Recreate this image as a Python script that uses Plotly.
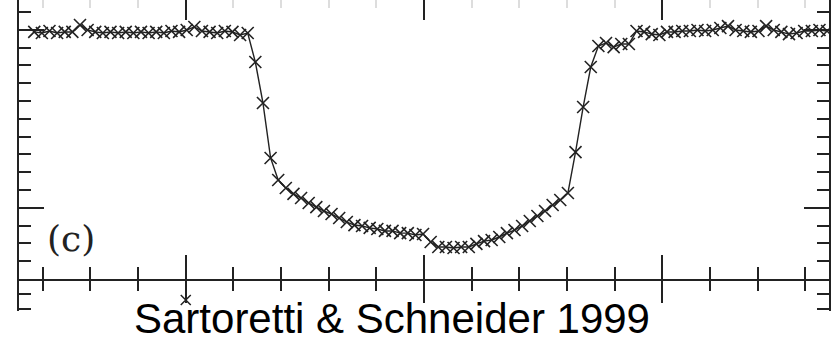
import plotly.graph_objects as go

# ---- panel (c) light curve (x: time units, y: flux in tick units) ----
time_c = [-8.18, -8.02, -7.86, -7.70, -7.54, -7.38, -7.22, -7.06, -6.90, -6.74,
          -6.58, -6.42, -6.26, -6.10, -5.94, -5.78, -5.62, -5.46, -5.30, -5.14,
          -4.98, -4.82, -4.66, -4.50, -4.34, -4.18, -4.02, -3.86, -3.70, -3.54,
          -3.38, -3.22, -3.06, -2.90, -2.74, -2.58, -2.42, -2.26, -2.10, -1.94,
          -1.78, -1.62, -1.46, -1.30, -1.14, -0.98, -0.82, -0.66, -0.50, -0.34,
          -0.18, -0.02, 0.14, 0.30, 0.46, 0.62, 0.78, 0.94, 1.10, 1.26,
          1.42, 1.58, 1.74, 1.90, 2.06, 2.22, 2.38, 2.54, 2.70, 2.86,
          3.02, 3.18, 3.34, 3.50, 3.66, 3.82, 3.98, 4.14, 4.30, 4.46,
          4.62, 4.78, 4.94, 5.10, 5.26, 5.42, 5.58, 5.74, 5.90, 6.06,
          6.22, 6.38, 6.54, 6.70, 6.86, 7.02, 7.18, 7.34, 7.50, 7.66,
          7.82, 7.98, 8.14, 8.30, 8.46]
flux_c = [13.88, 13.82, 13.93, 13.82, 13.88, 13.88, 14.27, 13.99, 13.88, 13.82,
          13.88, 13.82, 13.88, 13.82, 13.88, 13.82, 13.88, 13.82, 13.93, 13.88,
          13.99, 14.16, 13.93, 13.88, 13.82, 13.93, 13.88, 13.71, 13.82, 12.19,
          9.89, 6.80, 5.56, 5.11, 4.78, 4.55, 4.27, 4.04, 3.82, 3.65,
          3.43, 3.20, 3.03, 2.98, 2.87, 2.81, 2.70, 2.70, 2.58, 2.58,
          2.47, 2.53, 2.08, 1.80, 1.80, 1.74, 1.80, 1.80, 1.97, 2.13,
          2.19, 2.36, 2.58, 2.75, 2.98, 3.26, 3.54, 3.82, 4.16, 4.44,
          4.83, 7.13, 9.66, 11.91, 13.09, 13.26, 13.03, 13.20, 13.20, 13.93,
          13.88, 13.76, 13.71, 13.88, 13.88, 13.93, 13.93, 13.99, 13.93, 13.99,
          14.10, 14.21, 13.99, 13.93, 13.88, 13.93, 14.21, 13.99, 13.88, 13.76,
          13.82, 13.93, 13.93, 13.99, 13.93]

# ---- panel (d) (only one point visible) ----
time_d = [-5.0]
flux_d = [0.73]

label_c = "(c)"
caption = "Sartoretti & Schneider 1999"

INK = "#222222"
x_range = [-8.5, 8.5]

fig = go.Figure()
fig.add_trace(go.Scatter(
    x=time_c, y=flux_c, mode="lines+markers", xaxis="x", yaxis="y",
    line=dict(color=INK, width=1.4),
    marker=dict(symbol="x-thin", size=12, line=dict(color=INK, width=1.6)),
    showlegend=False, hoverinfo="skip"))
fig.add_trace(go.Scatter(
    x=time_d, y=flux_d, mode="markers", xaxis="x2", yaxis="y2",
    marker=dict(symbol="x-thin", size=10, line=dict(color=INK, width=1.5)),
    showlegend=False, hoverinfo="skip"))
fig.add_trace(go.Scatter(x=[None], y=[None], xaxis="x3", yaxis="y",
                         showlegend=False, hoverinfo="skip"))

common_x = dict(range=x_range, showgrid=False, zeroline=False, showticklabels=False,
                dtick=5, tick0=0, tickwidth=1.5, tickcolor=INK)

fig.update_layout(
    width=831, height=342,
    margin=dict(l=19, r=2, t=0, b=0),
    paper_bgcolor="white", plot_bgcolor="white",
    xaxis=dict(**common_x, domain=[0, 1], anchor="y", showline=True, linecolor=INK,
               linewidth=1.8, ticks="inside", ticklen=24,
               minor=dict(ticks="inside", ticklen=12, dtick=1, tick0=0,
                          tickwidth=1.5, tickcolor=INK)),
    yaxis=dict(domain=[0.1842, 1], range=[0, 15.674], showgrid=False, zeroline=False,
               showticklabels=False, showline=True, mirror="ticks", linecolor=INK,
               linewidth=1.8, ticks="inside", ticklen=25, dtick=10, tick0=4,
               tickwidth=1.5, tickcolor=INK,
               minor=dict(ticks="inside", ticklen=12, dtick=1, tick0=0,
                          tickwidth=1.5, tickcolor=INK)),
    xaxis2=dict(**common_x, domain=[0, 1], anchor="y2", side="top", showline=False,
                ticks="inside", ticklen=24,
                minor=dict(ticks="inside", ticklen=12, dtick=1, tick0=0,
                           tickwidth=1.5, tickcolor=INK)),
    yaxis2=dict(domain=[0.0906, 0.1842], range=[0, 2.133], showgrid=False,
                zeroline=False, showticklabels=False, showline=True, mirror="ticks",
                linecolor=INK, linewidth=1.8, ticks="inside", ticklen=12, dtick=1,
                tick0=0.133, tickwidth=1.5, tickcolor=INK),
    xaxis3=dict(**common_x, overlaying="x", anchor="y", side="top", showline=False,
                ticks="inside", ticklen=20,
                minor=dict(ticks="inside", ticklen=8, dtick=1, tick0=0,
                           tickwidth=1.5, tickcolor="#dddddd")),
    annotations=[
        dict(text=label_c, x=-7.41, y=2.3, xref="x", yref="y", showarrow=False,
             font=dict(family="DejaVu Serif", size=36, color=INK),
             xanchor="center", yanchor="middle"),
        dict(text=caption, x=0.4605, y=0.068, xref="paper", yref="paper",
             showarrow=False, font=dict(family="Liberation Sans, Arial", size=42,
                                        color="black"),
             xanchor="center", yanchor="middle"),
    ],
)

fig.write_html("out.html")
